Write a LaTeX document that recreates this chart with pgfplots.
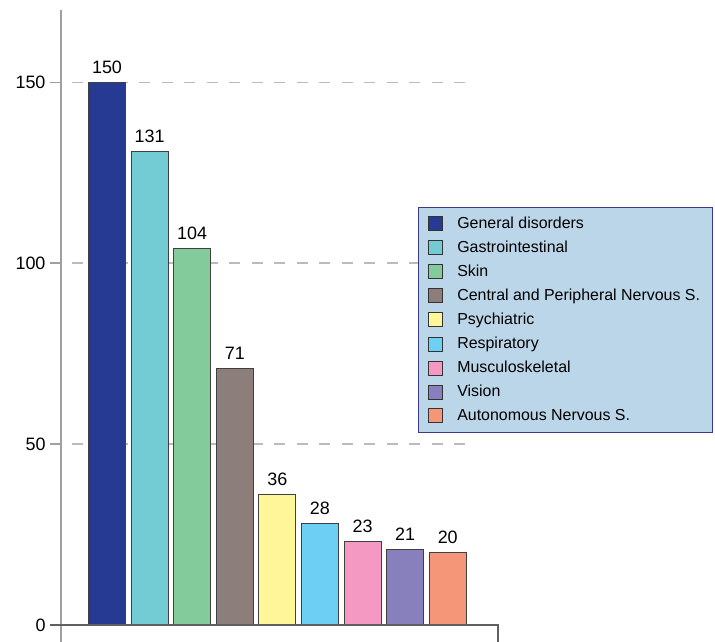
\documentclass[border=0pt]{standalone}
\usepackage{pgfplots}
\pgfplotsset{compat=1.18}
\usepackage{fontspec}
\setmainfont{Liberation Sans}
\definecolor{c1}{HTML}{263A93}
\definecolor{c2}{HTML}{73CCD3}
\definecolor{c3}{HTML}{84CB9C}
\definecolor{c4}{HTML}{8C7F7B}
\definecolor{c5}{HTML}{FFF599}
\definecolor{c6}{HTML}{6CCFF3}
\definecolor{c7}{HTML}{F49AC2}
\definecolor{c8}{HTML}{8880BC}
\definecolor{c9}{HTML}{F69679}
\definecolor{legbg}{HTML}{BAD6E8}
\definecolor{legbd}{HTML}{3A3A8A}
\definecolor{gridc}{HTML}{BBBBBB}
\definecolor{yaxc}{HTML}{A0A0A0}
\definecolor{xaxc}{HTML}{606060}
\begin{document}
\begin{tikzpicture}[x=1bp,y=1bp]
\useasboundingbox (-61,-17) rectangle (654,625);
\begin{axis}[
  at={(0,0)}, anchor=south west,
  scale only axis, width=437bp, height=615bp,
  xmin=-0.08, xmax=10.18, ymin=0, ymax=170,
  axis line style={draw=none},
  /pgf/number format/assume math mode=true,
  xtick=\empty,
  ytick={0,50,100,150},
  ytick pos=left,
  tick align=outside,
  major tick length=11bp,
  y tick style={draw=yaxc, line width=1.5bp},
  tick label style={font=\fontsize{18}{20}\selectfont},
  yticklabel style={xshift=-1bp},
  ybar, bar width=37bp, bar shift=0pt,
  every axis plot/.append style={draw=black!75, line width=0.8bp},
  nodes near coords,
  nodes near coords style={font=\fontsize{18}{20}\selectfont, text=black, yshift=5bp,
    /pgf/number format/assume math mode=true},
  clip=false,
  legend style={at={(0.817,0.680)}, anchor=north west, fill=legbg, draw=legbd, line width=0.9bp,
    font=\fontsize{16}{18}\selectfont, cells={anchor=west}, row sep=7bp, column sep=12bp,
    inner xsep=10bp, inner ysep=8bp},
  legend image code/.code={\draw[#1, line width=0.8bp, draw=black!80] (0bp,-7bp) rectangle (14bp,7bp);},
]
\draw[gridc, line width=1.5bp, dash pattern=on 11bp off 11.5bp] (axis cs:0.178,50) -- (axis cs:9.47,50);
\draw[gridc, line width=1.5bp, dash pattern=on 11bp off 11.5bp] (axis cs:0.178,100) -- (axis cs:9.47,100);
\draw[gridc, line width=1.5bp, dash pattern=on 11bp off 11.5bp] (axis cs:0.178,150) -- (axis cs:9.47,150);
\addplot[fill=c1] coordinates {(1,150)};
\addplot[fill=c2] coordinates {(2,131)};
\addplot[fill=c3] coordinates {(3,104)};
\addplot[fill=c4] coordinates {(4,71)};
\addplot[fill=c5] coordinates {(5,36)};
\addplot[fill=c6] coordinates {(6,28)};
\addplot[fill=c7] coordinates {(7,23)};
\addplot[fill=c8] coordinates {(8,21)};
\addplot[fill=c9] coordinates {(9,20)};
\legend{General disorders, Gastrointestinal, Skin, Central and Peripheral Nervous S., Psychiatric, Respiratory, Musculoskeletal, Vision, Autonomous Nervous S.}
\end{axis}
\draw[yaxc, line width=1.5bp] (0,615) -- (0,-17);
\draw[xaxc, line width=1.5bp] (-11,0) -- (437,0) -- (437,-17);
\end{tikzpicture}
\end{document}
